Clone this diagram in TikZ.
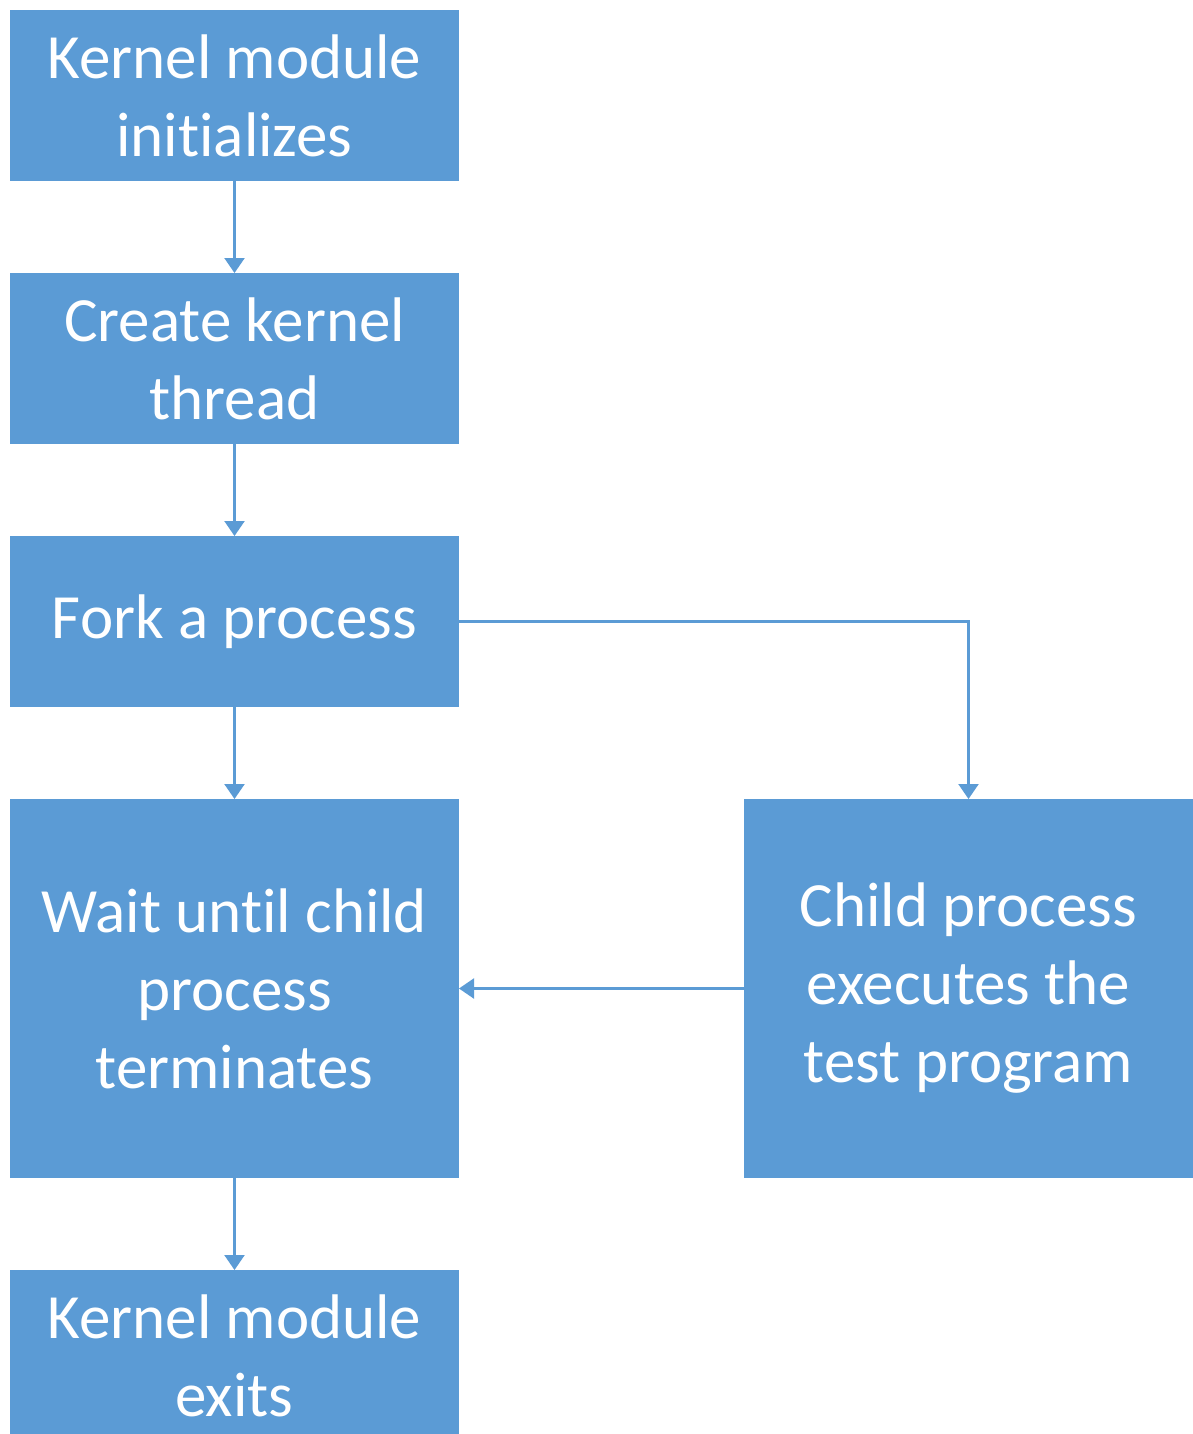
\documentclass[tikz,border=0pt]{standalone}
\usepackage{fontspec}
\setmainfont{Carlito}[Ligatures=NoCommon]
\usepackage{xcolor}
\usepackage{tikz}
\usetikzlibrary{arrows.meta, positioning}
\definecolor{office-blue}{RGB}{91,155,213}

\begin{document}
\begin{tikzpicture}[
    node distance=46pt,
    every node/.style={font=\fontsize{31.5pt}{39pt}\selectfont},
    block/.style={rectangle, fill=office-blue, text=white,
                  minimum width=224.5pt, minimum height=85.5pt,
                  inner sep=0pt, outer sep=0pt, align=center},
    tall/.style={block, minimum height=189.5pt},
    flow/.style={draw=office-blue, line width=1.1pt,
                 -{Triangle[width=10pt, length=7.5pt]}},
  ]
    \useasboundingbox (0,0) rectangle (596.5pt,-717pt);
    \node[block, anchor=north west] (init) at (5pt,-5pt)
      {Kernel module\\initializes};
    \node[block, below=of init] (thread) {Create kernel\\thread};
    \node[block, below=of thread] (fork) {Fork a process};
    \node[tall, below=of fork] (wait) {Wait until child\\process\\terminates};
    \node[tall, right=142.5pt of wait] (child)
      {Child process\\executes the\\test program};
    \node[block, below=of wait] (exit) {Kernel module\\exits};

    \draw[flow] (init) -- (thread);
    \draw[flow] (thread) -- (fork);
    \draw[flow] (fork) -- (wait);
    \draw[flow] (fork) -| (child);
    \draw[flow] (child) -- (wait);
    \draw[flow] (wait) -- (exit);
  \end{tikzpicture}
\end{document}
